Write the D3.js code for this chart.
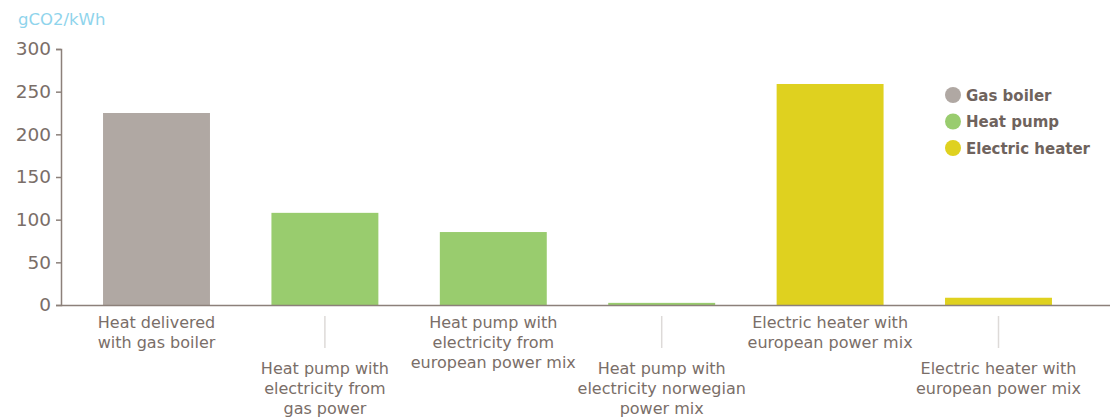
<!DOCTYPE html>
<html><head><meta charset="utf-8">
<script src="https://cdn.jsdelivr.net/npm/d3@7"></script>
<style>body{margin:0;background:#fff}svg{display:block}</style>
</head><body>
<svg id="c" width="1110" height="419"></svg>
<script>
const categories = [
  ["Heat delivered","with gas boiler"],
  ["Heat pump with","electricity from","gas power"],
  ["Heat pump with","electricity from","european power mix"],
  ["Heat pump with","electricity norwegian","power mix"],
  ["Electric heater with","european power mix"],
  ["Electric heater with","european power mix"]
];
const values = [225, 108, 85.5, 2.5, 259, 8.5];
const groups = ["Gas boiler","Heat pump","Heat pump","Heat pump","Electric heater","Electric heater"];
const legendItems = ["Gas boiler","Heat pump","Electric heater"];
const legendColors = ["#b0a8a3","#99cc6e","#dfd11f"];
const yTicks = [0,50,100,150,200,250,300];
const unitLabel = "gCO2/kWh";

const svg = d3.select("#c");
const textCol = "#7a6e68", axisCol = "#8c807a";
const font = "'DejaVu Sans', sans-serif";

const y = d3.scaleLinear().domain([0,300]).range([305,49]);
const x = d3.scaleBand().domain(d3.range(categories.length)).range([72.3,1082.7]).paddingInner(0.365).paddingOuter(0.1825);
const color = d3.scaleOrdinal().domain(legendItems).range(legendColors);

// unit label
svg.append("text").attr("x",18).attr("y",25).attr("fill","#8fd4ec")
  .attr("font-family",font).attr("font-size",16.5).text(unitLabel);

// y axis
const ya = svg.append("g").attr("transform","translate(61,0)")
  .call(d3.axisLeft(y).tickValues(yTicks).tickSize(5).tickPadding(5));
ya.select(".domain").attr("stroke",axisCol).attr("stroke-width",1.5);
ya.selectAll(".tick line").attr("stroke",axisCol).attr("stroke-width",1.5);
ya.selectAll(".tick text").attr("fill",textCol).attr("font-family",font).attr("font-size",18.5);

// bars
svg.append("g").selectAll("rect").data(values).join("rect")
  .attr("x",(d,i)=>x(i)).attr("width",x.bandwidth())
  .attr("y",d=>y(d)).attr("height",d=>y(0)-y(d))
  .attr("fill",(d,i)=>color(groups[i]));

// x axis line
svg.append("line").attr("x1",61).attr("x2",1110).attr("y1",y(0)+0.5).attr("y2",y(0)+0.5)
  .attr("stroke",axisCol).attr("stroke-width",1.5);

// category labels
categories.forEach((lines,i)=>{
  const cx = x(i)+x.bandwidth()/2;
  const low = i%2===1;
  if(low){
    svg.append("line").attr("x1",cx).attr("x2",cx).attr("y1",316).attr("y2",348)
      .attr("stroke","#dddad8").attr("stroke-width",1.5);
  }
  const t = svg.append("text").attr("text-anchor","middle").attr("fill",textCol)
    .attr("font-family",font).attr("font-size",16);
  lines.forEach((l,j)=>{
    t.append("tspan").attr("x",cx).attr("y",(low?374:328)+j*20).text(l);
  });
});

// legend
const lg = svg.append("g");
legendItems.forEach((name,i)=>{
  const cy = 95+i*26.5;
  lg.append("circle").attr("cx",953).attr("cy",cy).attr("r",8).attr("fill",legendColors[i]);
  lg.append("text").attr("x",966).attr("y",cy+5.5).attr("fill","#6f635d")
    .attr("font-family",font).attr("font-weight","bold").attr("font-size",15).text(name);
});
</script>
</body></html>
